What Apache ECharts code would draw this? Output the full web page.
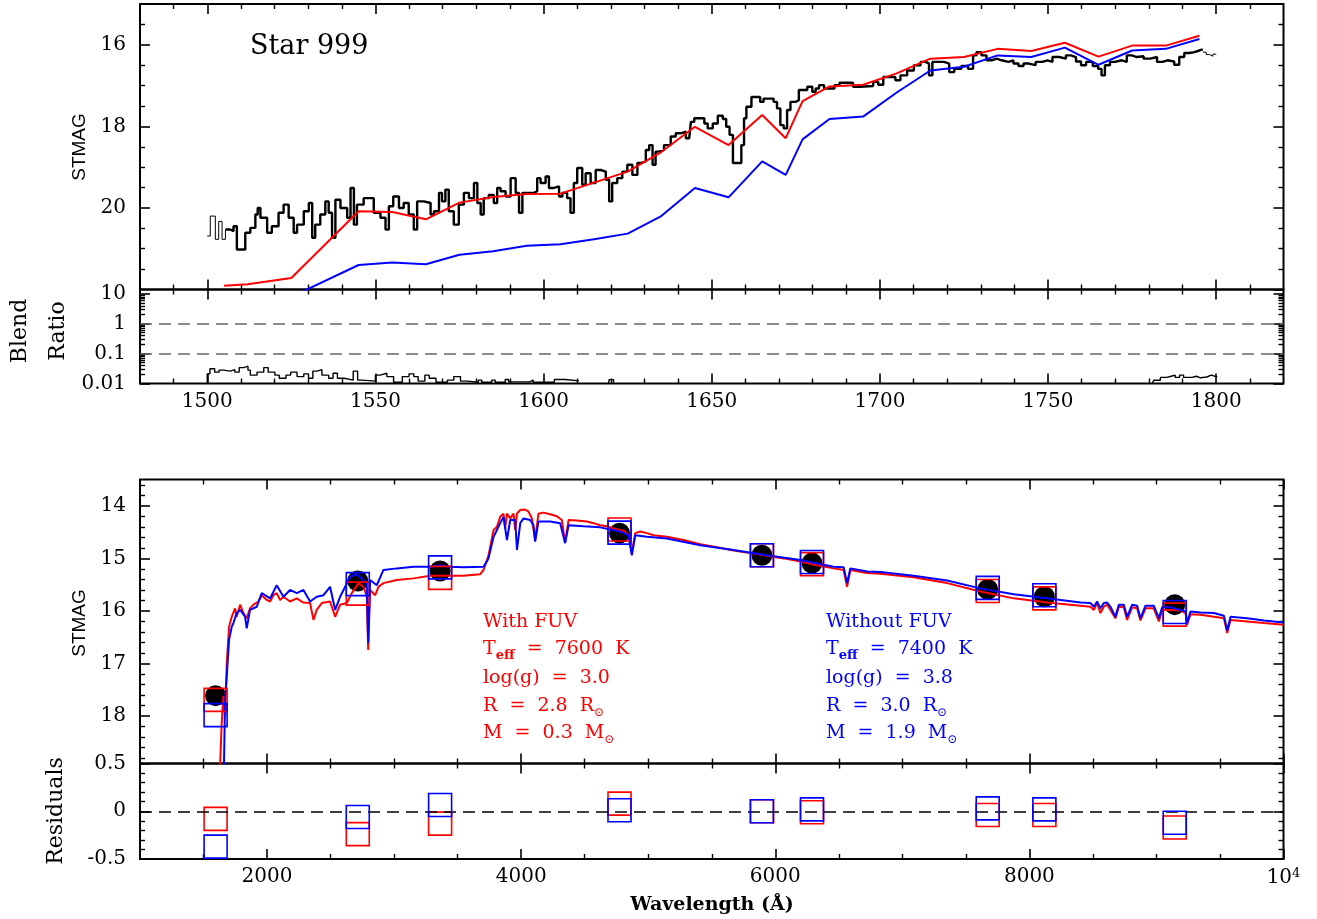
<!DOCTYPE html>
<html><head><meta charset="utf-8">
<script src="https://cdn.jsdelivr.net/npm/echarts@6/dist/echarts.min.js"></script>
<style>html,body{margin:0;padding:0;background:#fff}#chart{width:1317px;height:919px}</style>
</head><body><div id="chart"></div>
<script>
// ================= DATA =================
// Top panel: observed FUV spectrum (STMAG), step histogram; value holds from wave[i] to wave[i+1]
const fuvStartWave = [1500.0, 1500.9, 1502.4, 1503.4, 1504.4, 1505.4];
const fuvStartMag  = [20.69, 20.20, 20.77, 20.33, 20.77, 20.53];
const fuvObsWave = [1505.4,1506.8,1507.8,1508.8,1511.3,1512.8,1514.3,1515.0,1515.8,1517.8,1519.2,1521.2,1522.7,1524.2,1525.7,1526.7,1528.7,1530.2,1531.2,1532.1,1533.6,1535.1,1536.1,1537.1,1538.1,1539.6,1541.6,1542.6,1543.6,1544.5,1546.5,1549.5,1551.5,1553.0,1554.0,1555.3,1557.0,1558.4,1559.9,1561.4,1562.4,1564.4,1566.4,1567.4,1568.9,1569.8,1570.8,1571.8,1573.3,1574.8,1576.3,1577.8,1579.3,1580.3,1581.3,1582.2,1583.7,1585.2,1586.2,1587.2,1588.7,1590.2,1591.7,1592.7,1593.7,1597.1,1598.1,1599.1,1600.6,1601.6,1603.1,1604.6,1605.6,1607.0,1608.0,1609.0,1610.0,1611.5,1612.5,1614.0,1615.5,1617.0,1618.5,1619.5,1620.4,1621.9,1623.4,1624.9,1626.4,1627.9,1628.9,1630.4,1631.4,1632.4,1633.3,1634.3,1635.8,1637.8,1639.3,1640.8,1642.3,1643.3,1643.8,1644.8,1647.8,1648.8,1650.3,1651.8,1653.3,1654.3,1655.3,1656.3,1658.8,1659.6,1660.3,1661.8,1664.4,1665.4,1668.4,1669.4,1670.4,1671.4,1672.4,1673.4,1674.9,1675.9,1678.4,1679.9,1680.9,1681.9,1683.4,1686.5,1688.0,1692.0,1694.0,1698.0,1699.5,1701.0,1704.6,1706.1,1708.1,1710.1,1712.1,1713.6,1714.6,1715.6,1719.1,1720.6,1722.1,1724.2,1726.2,1727.7,1728.7,1730.2,1731.7,1733.2,1734.7,1736.2,1738.2,1739.7,1741.2,1742.7,1744.3,1746.3,1748.3,1749.8,1751.3,1753.3,1755.3,1756.8,1758.3,1759.8,1761.3,1763.3,1764.9,1765.9,1766.9,1768.4,1769.9,1771.9,1773.4,1774.9,1776.4,1778.4,1780.4,1782.4,1784.0,1785.5,1787.5,1789.0,1790.5,1792.0,1793.5,1795.0,1796.0];
const fuvObsMag = [20.53,20.57,20.45,21.02,20.61,20.49,20.16,20.00,20.24,20.61,20.45,20.12,19.92,20.24,20.61,20.41,20.08,19.88,20.73,20.41,20.16,19.84,20.12,20.73,19.80,20.00,20.24,19.51,20.41,19.92,19.76,20.12,20.24,20.53,19.96,19.72,20.00,19.88,20.16,20.53,19.84,19.88,20.16,20.08,19.63,19.84,19.55,20.08,20.41,19.92,19.63,19.76,19.39,19.88,20.16,19.76,19.68,19.88,19.51,19.59,19.72,19.27,19.63,20.12,19.63,19.59,19.27,19.39,19.23,19.51,19.47,19.72,19.63,19.76,20.12,19.39,19.02,19.43,19.15,19.39,19.07,19.11,19.31,19.84,19.39,19.27,19.11,18.94,19.19,18.90,18.86,18.58,18.46,18.94,18.62,18.58,18.46,18.25,18.17,18.13,18.29,18.33,17.89,17.80,17.93,18.05,17.93,17.74,17.82,18.01,18.21,18.90,18.46,17.80,17.52,17.28,17.40,17.32,17.40,17.56,17.97,18.05,17.60,17.40,17.36,17.11,17.03,17.15,17.07,16.99,17.07,16.99,16.93,17.03,17.01,16.91,16.98,16.79,16.87,16.75,16.63,16.50,16.42,16.46,16.75,16.42,16.46,16.67,16.59,16.52,16.59,16.26,16.18,16.26,16.38,16.34,16.38,16.42,16.38,16.46,16.52,16.46,16.50,16.42,16.38,16.42,16.30,16.34,16.26,16.30,16.41,16.50,16.42,16.52,16.59,16.75,16.50,16.42,16.38,16.42,16.26,16.30,16.28,16.34,16.30,16.42,16.38,16.41,16.49,16.30,16.20,16.18,16.14,16.11,16.11];
const fuvEndWave = [1796.0, 1797.0, 1798.0, 1799.0, 1800.0];
const fuvEndMag  = [16.18, 16.24, 16.28, 16.23, 16.23];

// Top panel: model tracks
const fuvRedWave = [1505,1512,1525,1545,1555,1565,1575,1585,1595,1605,1615,1625,1635,1645,1655,1665,1672,1677,1685,1695,1705,1715,1725,1735,1745,1755,1765,1775,1785,1795];
const fuvRedMag  = [21.91,21.87,21.72,20.08,20.10,20.28,19.87,19.73,19.66,19.65,19.38,19.11,18.63,18.01,18.46,17.72,18.29,17.38,17.02,16.98,16.70,16.34,16.30,16.10,16.15,15.95,16.29,16.02,16.02,15.78];
const fuvBlueWave = [1525,1545,1555,1565,1575,1585,1595,1605,1615,1625,1635,1645,1655,1665,1672,1677,1685,1695,1705,1715,1725,1735,1745,1755,1765,1775,1785,1795];
const fuvBlueMag  = [22.18,21.40,21.34,21.38,21.15,21.06,20.93,20.89,20.77,20.63,20.20,19.51,19.74,18.86,19.19,18.32,17.82,17.76,17.17,16.63,16.54,16.26,16.30,16.07,16.49,16.14,16.10,15.86];

// Blend ratio panel (step)
const blendAWave = [1500.0,1500.0,1500.8,1502.2,1503.5,1504.8,1506.8,1508.2,1509.5,1510.8,1512.1,1512.8,1514.8,1516.8,1518.1,1520.1,1521.4,1523.4,1524.8,1526.7,1528.7,1530.1,1531.4,1532.7,1534.1,1536.1,1537.4,1538.7,1540.7,1543.4,1544.7,1546.0,1550.0,1551.4,1553.4,1555.4,1558.0,1560.0,1561.4,1562.7,1564.7,1566.0,1568.0,1571.4,1573.3,1575.3,1577.3,1580.6,1581.6,1584.6,1585.6,1588.6,1589.6,1595.9,1596.9,1603.2,1606.5,1610.5];
const blendARatio = [0.0102,0.021,0.031,0.024,0.028,0.026,0.029,0.024,0.034,0.038,0.028,0.019,0.024,0.034,0.024,0.019,0.015,0.019,0.024,0.017,0.021,0.015,0.026,0.029,0.019,0.015,0.022,0.015,0.013,0.026,0.013,0.012,0.019,0.022,0.017,0.011,0.017,0.021,0.017,0.012,0.019,0.015,0.011,0.013,0.017,0.012,0.011,0.013,0.011,0.013,0.011,0.0136,0.0113,0.013,0.011,0.0136,0.0122,0.0122];
const blendBWave = [1619.3,1619.5,1620.8,1621.0];
const blendBRatio = [0.0101,0.0135,0.0101,0.0101];
const blendCWave = [1781.0,1781.5,1783.4,1785.3,1786.6,1787.8,1789.1,1790.3,1792.8,1794.1,1795.3,1797.2,1798.5,1800.3];
const blendCRatio = [0.0105,0.0129,0.016,0.0175,0.019,0.016,0.019,0.016,0.0175,0.0155,0.0165,0.019,0.0165,0.0165];
const blendLevels = [1, 0.1];

// SED panel: model spectra
const sedRedWave = [1620,1643,1656,1669,1683,1701,1722,1748,1761,1788,1814,1840,1866,1893,1932,1958,1998,2024,2050,2076,2103,2129,2181,2234,2286,2339,2365,2391,2431,2496,2536,2575,2628,2667,2720,2759,2785,2796,2811,2851,2877,2916,3021,3153,3284,3441,3546,3678,3704,3743,3783,3809,3835,3861,3874,3888,3914,3940,3953,3967,3993,4031,4058,4084,4110,4136,4176,4228,4281,4320,4346,4373,4438,4517,4570,4622,4675,4727,4780,4819,4845,4871,4898,4937,4990,5042,5147,5278,5410,5541,5672,5803,5935,6066,6197,6328,6460,6538,6565,6591,6722,6827,7089,7352,7614,7877,8139,8402,8481,8507,8533,8559,8586,8612,8638,8677,8704,8743,8769,8809,8848,8874,8914,8979,9019,9045,9111,9189,9229,9242,9268,9347,9452,9531,9557,9583,9714,9846,10000];
const sedRedMag = [19.6,18.13,17.62,18.00,16.99,16.30,16.11,15.95,16.11,15.88,16.04,16.14,15.95,15.88,15.82,15.70,15.79,15.82,15.70,15.66,15.79,15.73,15.82,15.76,15.84,15.85,16.17,15.98,15.85,15.82,16.11,15.88,15.85,15.66,15.47,15.54,15.73,16.74,15.60,15.70,15.54,15.47,15.41,15.38,15.33,15.33,15.33,15.30,15.22,14.94,14.46,14.40,14.21,14.15,14.43,14.15,14.24,14.15,14.46,14.15,14.08,14.07,14.11,14.24,14.65,14.15,14.13,14.16,14.20,14.27,14.70,14.27,14.28,14.30,14.33,14.37,14.39,14.43,14.46,14.49,14.56,14.90,14.52,14.49,14.52,14.56,14.59,14.65,14.73,14.79,14.85,14.90,14.95,15.00,15.06,15.13,15.19,15.22,15.54,15.22,15.28,15.29,15.36,15.47,15.63,15.76,15.84,15.90,15.92,15.98,15.85,16.04,15.92,15.88,15.98,16.14,15.92,15.93,16.17,15.93,15.95,16.18,15.95,15.95,16.20,15.98,15.98,15.99,16.04,16.26,16.06,16.07,16.11,16.14,16.42,16.17,16.20,16.23,16.26];
const sedBlueWave = [1655,1669,1683,1701,1722,1735,1761,1788,1827,1840,1866,1919,1958,2024,2076,2129,2181,2234,2286,2339,2391,2444,2496,2536,2575,2654,2706,2759,2785,2796,2811,2864,2916,3021,3153,3284,3363,3441,3546,3704,3743,3783,3809,3835,3861,3888,3914,3953,3967,3993,4019,4071,4097,4110,4136,4228,4307,4346,4373,4491,4622,4701,4780,4845,4871,4898,4990,5147,5410,5672,5935,6197,6460,6538,6565,6591,6722,6827,7089,7352,7614,7877,8139,8402,8481,8507,8533,8559,8586,8612,8638,8677,8704,8743,8769,8809,8848,8874,8914,8979,9019,9045,9111,9189,9229,9242,9268,9347,9452,9531,9557,9583,9714,9846,10000];
const sedBlueMag = [19.8,17.75,17.24,16.55,16.30,16.23,16.04,15.98,16.11,16.33,15.98,15.92,15.66,15.76,15.51,15.73,15.60,15.66,15.60,15.82,15.73,15.70,15.54,15.98,15.73,15.35,15.30,15.41,15.51,16.61,15.41,15.51,15.22,15.19,15.16,15.16,15.13,15.16,15.17,15.16,15.00,14.59,14.46,14.33,14.21,14.65,14.27,14.27,14.84,14.33,14.24,14.27,14.37,14.68,14.30,14.30,14.33,14.71,14.37,14.39,14.41,14.45,14.49,14.56,14.94,14.56,14.59,14.62,14.75,14.84,14.94,15.03,15.16,15.17,15.47,15.19,15.25,15.26,15.33,15.42,15.57,15.68,15.76,15.84,15.85,15.92,15.82,15.95,15.85,15.84,15.92,16.11,15.88,15.88,16.11,15.88,15.90,16.14,15.90,15.90,16.14,15.93,15.93,15.98,16.01,16.22,16.01,16.03,16.04,16.09,16.37,16.11,16.14,16.18,16.22];

// SED panel: photometry
const photWave = [1595, 2714, 3362, 4774, 5895, 6289, 7672, 8118, 9144];
const photObs  = [17.61, 15.43, 15.24, 14.52, 14.94, 15.09, 15.59, 15.73, 15.88];
const photRed  = [17.69, 15.67, 15.37, 14.45, 14.94, 15.11, 15.62, 15.76, 16.07];
const photBlue = [17.98, 15.49, 15.17, 14.51, 14.94, 15.07, 15.56, 15.70, 16.02];
const residRed  = [-0.08, -0.24, -0.13, 0.08, 0.00, -0.01, -0.04, -0.04, -0.17];
const residBlue = [-0.37, -0.06, 0.065, 0.01, 0.00, 0.02, 0.03, 0.02, -0.12];

// tick labels
const fuvWaveTicks = [1500, 1550, 1600, 1650, 1700, 1750, 1800];
const fuvMagTicks = [16, 18, 20];
const sedWaveTicks = [2000, 4000, 6000, 8000, 10000];
const sedMagTicks = [14, 15, 16, 17, 18];
const residTicks = [-0.5, 0, 0.5];

// annotation lines (rich-text markup: n = normal, s = subscript, o = solar symbol)
const redText  = ['{n|With FUV}', '{n|T}{s|eff}{n|  =  7600  K}', '{n|log(g)  =  3.0}', '{n|R  =  2.8  R}{o|⊙}', '{n|M  =  0.3  M}{o|⊙}'];
const blueText = ['{n|Without FUV}', '{n|T}{s|eff}{n|  =  7400  K}', '{n|log(g)  =  3.8}', '{n|R  =  3.0  R}{o|⊙}', '{n|M  =  1.9  M}{o|⊙}'];

// ================= BUILD =================
const zip = (a, b) => a.map((v, i) => [v, b[i]]);
const FONT = 'DejaVu Serif';
const RED = '#ff0000', BLUE = '#0000ff';

function steps(a, b, step, skip) {
  const out = [];
  for (let i = 0; ; i++) {
    const v = +(a + i * step).toFixed(6);
    if (v > b + 1e-9) break;
    if (!skip || !skip.some(s => Math.abs(s - v) < 1e-9)) out.push(v);
  }
  return out;
}

const xAxes = [], yAxes = [];
function tickAxis(list, o) {
  const idx = list.length;
  const sides = o.dim === 'x' ? ['bottom', 'top'] : ['left', 'right'];
  sides.forEach((pos, si) => {
    const major = {
      type: o.type || 'value', gridIndex: o.grid, min: o.min, max: o.max, inverse: !!o.inverse,
      position: pos, axisLine: { show: false, onZero: false }, splitLine: { show: false },
      axisTick: { show: true, inside: true, length: 10, lineStyle: { color: '#000', width: 1.6 } },
      axisLabel: { show: false }
    };
    if (o.type === 'log') major.logBase = 10; else major.axisTick.customValues = o.majors;
    if (si === 0 && o.labels) {
      major.axisLabel = {
        show: true, color: '#000', fontFamily: FONT, fontSize: 20, margin: o.margin,
        formatter: o.formatter || (v => String(v)), rich: o.rich || {}
      };
      if (o.type === 'log') { major.axisLabel.showMaxLabel = false; }
      else major.axisLabel.customValues = o.majors;
    }
    list.push(major);
    list.push({
      type: 'value', gridIndex: o.grid, inverse: !!o.inverse,
      min: (o.minorMin !== undefined ? o.minorMin : o.min), max: (o.minorMax !== undefined ? o.minorMax : o.max),
      position: pos, axisLine: { show: false, onZero: false }, splitLine: { show: false },
      axisTick: { show: true, inside: true, length: 5, customValues: o.minors, lineStyle: { color: '#000', width: 1.4 } },
      axisLabel: { show: false }
    });
  });
  return idx;
}

// grid 0: FUV spectrum
const X0 = tickAxis(xAxes, { dim: 'x', grid: 0, min: 1480, max: 1820, majors: fuvWaveTicks, minors: steps(1490, 1810, 10, fuvWaveTicks) });
const Y0 = tickAxis(yAxes, { dim: 'y', grid: 0, min: 15, max: 22, inverse: true, majors: fuvMagTicks, minors: steps(15.5, 21.5, 0.5, fuvMagTicks), labels: true, margin: 14 });
// grid 1: blend ratio
const X1 = tickAxis(xAxes, { dim: 'x', grid: 1, min: 1480, max: 1820, majors: fuvWaveTicks, minors: steps(1490, 1810, 10, fuvWaveTicks), labels: true, margin: 8 });
const blendMax = 14;
const blendMinor = [];
[-2, -1, 0, 1].forEach(d => { for (let k = 2; k <= 9; k++) { const v = Math.log10(k) + d; if (v < Math.log10(blendMax)) blendMinor.push(v); } });
const Y1 = tickAxis(yAxes, { dim: 'y', grid: 1, type: 'log', min: 0.01, max: blendMax, minorMin: -2, minorMax: Math.log10(blendMax), minors: blendMinor, labels: true, margin: 14 });
// grid 2: SED
const X2 = tickAxis(xAxes, { dim: 'x', grid: 2, min: 1000, max: 10000, majors: sedWaveTicks, minors: steps(1500, 9500, 500, sedWaveTicks) });
const Y2 = tickAxis(yAxes, { dim: 'y', grid: 2, min: 13.5, max: 18.9, inverse: true, majors: sedMagTicks, minors: steps(13.6, 18.8, 0.2, sedMagTicks), labels: true, margin: 14 });
// grid 3: residuals
const X3 = tickAxis(xAxes, { dim: 'x', grid: 3, min: 1000, max: 10000, majors: sedWaveTicks, minors: steps(1500, 9500, 500, sedWaveTicks), labels: true, margin: 8,
  formatter: v => (v === 10000 ? '{a|10}{s|4}' : String(v)),
  rich: { a: { fontFamily: FONT, fontSize: 20, color: '#000', lineHeight: 22 }, s: { fontFamily: FONT, fontSize: 13, color: '#000', verticalAlign: 'top', lineHeight: 12 } } });
const Y3 = tickAxis(yAxes, { dim: 'y', grid: 3, min: -0.5, max: 0.5, majors: residTicks, minors: steps(-0.4, 0.4, 0.1, [0]), labels: true, margin: 14 });

const gridBase = { left: 140, right: 33.5, show: true, borderColor: '#000', borderWidth: 2, backgroundColor: 'transparent' };
const grids = [
  Object.assign({ top: 4, height: 285.5 }, gridBase),
  Object.assign({ top: 289.5, height: 94 }, gridBase),
  Object.assign({ top: 479.5, height: 284 }, gridBase),
  Object.assign({ top: 763.5, height: 95.5 }, gridBase)
];

const lineS = (xi, yi, data, color, width, step, z) => ({
  type: 'line', xAxisIndex: xi, yAxisIndex: yi, data, showSymbol: false, symbol: 'none', step: step || false,
  lineStyle: { color, width, opacity: 1 }, z: z || 2, silent: true, animation: false
});
const boxS = (xi, yi, data, color, z) => ({
  type: 'scatter', xAxisIndex: xi, yAxisIndex: yi, data, symbol: 'rect', symbolSize: 23,
  itemStyle: { color: 'rgba(0,0,0,0)', borderColor: color, borderWidth: 1.6, opacity: 1 }, z: z, silent: true, animation: false
});

const series = [
  lineS(X0, Y0, zip(fuvStartWave, fuvStartMag), '#000', 1, 'end', 2),
  lineS(X0, Y0, zip(fuvObsWave, fuvObsMag), '#000', 2.4, 'end', 2),
  lineS(X0, Y0, zip(fuvEndWave, fuvEndMag), '#000', 1, 'end', 2),
  lineS(X0, Y0, zip(fuvRedWave, fuvRedMag), RED, 2, false, 3),
  lineS(X0, Y0, zip(fuvBlueWave, fuvBlueMag), BLUE, 2, false, 3),
  Object.assign(lineS(X1, Y1, zip(blendAWave, blendARatio), '#000', 1.4, 'end', 3), {
    markLine: { silent: true, symbol: 'none', label: { show: false }, animation: false,
      lineStyle: { color: '#666', width: 1.5, type: [12, 7] }, data: blendLevels.map(v => ({ yAxis: v })) }
  }),
  lineS(X1, Y1, zip(blendBWave, blendBRatio), '#000', 1.4, 'end', 3),
  lineS(X1, Y1, zip(blendCWave, blendCRatio), '#000', 1.4, 'end', 3),
  { type: 'scatter', xAxisIndex: X2, yAxisIndex: Y2, data: zip(photWave, photObs), symbol: 'circle', symbolSize: 21,
    itemStyle: { color: '#000', opacity: 1 }, z: 2, silent: true, animation: false },
  lineS(X2, Y2, zip(sedRedWave, sedRedMag), RED, 2, false, 3),
  lineS(X2, Y2, zip(sedBlueWave, sedBlueMag), BLUE, 2, false, 3),
  boxS(X2, Y2, zip(photWave, photRed), RED, 4),
  boxS(X2, Y2, zip(photWave, photBlue), BLUE, 5),
  Object.assign(boxS(X3, Y3, zip(photWave, residRed), RED, 4), {
    markLine: { silent: true, symbol: 'none', label: { show: false }, animation: false,
      lineStyle: { color: '#000', width: 1.5, type: [12, 7] }, data: [{ yAxis: 0 }] }
  }),
  boxS(X3, Y3, zip(photWave, residBlue), BLUE, 5)
];

function txt(x, y, text, opts) {
  return Object.assign({ type: 'text', x, y, silent: true, z: 100,
    style: Object.assign({ text, fill: '#000', fontFamily: FONT, fontSize: 20, textAlign: 'left', verticalAlign: 'middle' }, opts || {}) });
}
function rot(x, y, text, opts) {
  const t = txt(x, y, text, Object.assign({ textAlign: 'center' }, opts || {}));
  t.rotation = Math.PI / 2;
  return t;
}
function legendBlock(x, lines, color) {
  const ys = [622, 649, 678, 706, 733];
  return lines.map((s, i) => ({
    type: 'text', x, y: ys[i], silent: true, z: 100,
    style: {
      text: s,
      rich: {
        n: { fill: color, fontFamily: FONT, fontSize: 19, lineHeight: 26 },
        s: { fill: color, fontFamily: FONT, fontSize: 13, fontWeight: 'bold', verticalAlign: 'bottom', lineHeight: 12 },
        o: { fill: color, fontFamily: FONT, fontSize: 12, verticalAlign: 'bottom', lineHeight: 10 }
      },
      textAlign: 'left', verticalAlign: 'middle'
    }
  }));
}

const graphic = [
  txt(250, 47, 'Star 999', { fontSize: 27 }),
  rot(80, 147, 'STMAG', { fontFamily: 'Liberation Sans', fontSize: 19 }),
  rot(20, 331, 'Blend', { fontSize: 22 }),
  rot(58, 331, 'Ratio', { fontSize: 22 }),
  rot(80, 623, 'STMAG', { fontFamily: 'Liberation Sans', fontSize: 19 }),
  rot(56, 811, 'Residuals', { fontSize: 22 }),
  txt(712, 905, 'Wavelength (Å)', { textAlign: 'center', fontSize: 19, fontWeight: 'bold' })
].concat(legendBlock(483, redText, RED), legendBlock(826, blueText, BLUE));

const chart = echarts.init(document.getElementById('chart'), null, { renderer: 'canvas' });
chart.setOption({
  animation: false,
  backgroundColor: '#fff',
  grid: grids,
  xAxis: xAxes,
  yAxis: yAxes,
  series,
  graphic
});
</script></body></html>
